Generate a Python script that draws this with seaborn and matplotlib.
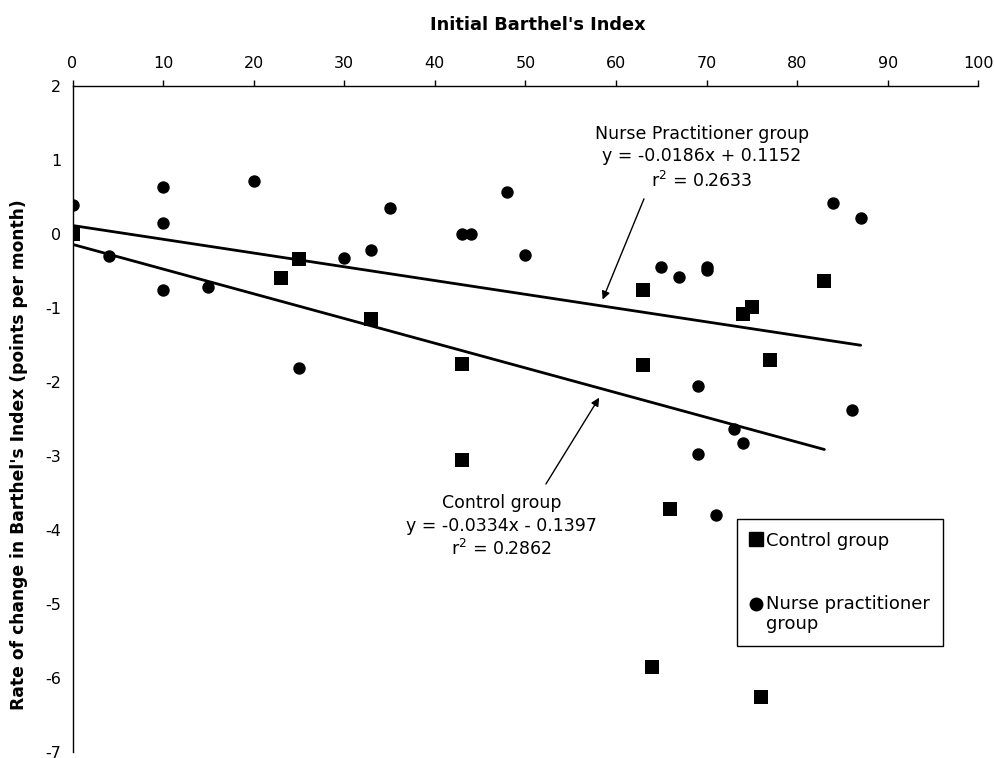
import numpy as np
import pandas as pd
import matplotlib
matplotlib.use("Agg")
import matplotlib.pyplot as plt
from matplotlib.lines import Line2D
from matplotlib.legend_handler import HandlerLine2D
import seaborn as sns

# control group (squares)
ctrl_x = [0, 23, 25, 33, 43, 43, 63, 63, 64, 66, 74, 75, 76, 77, 83]
ctrl_y = [0.0, -0.60, -0.34, -1.15, -1.75, -3.05, -0.76, -1.77, -5.85, -3.72, -1.08, -0.99, -6.26, -1.70, -0.635]

# nurse practitioner group (circles)
np_x = [0, 4, 10, 10, 10, 15, 20, 25, 30, 33, 35, 43, 44, 48, 50, 65, 67, 69, 69, 70, 70, 71, 73, 74, 84, 86, 87]
np_y = [0.39, -0.30, 0.64, 0.145, -0.75, -0.72, 0.72, -1.815, -0.32, -0.22, 0.35, 0.0, 0.0, 0.57, -0.29,
        -0.44, -0.58, -2.05, -2.97, -0.45, -0.48, -3.80, -2.64, -2.83, 0.42, -2.38, 0.21]

# regression lines (slope, intercept, x range)
ctrl_fit = (-0.0334, -0.1397, 0, 83)
np_fit = (-0.0186, 0.1152, 0, 87)

ctrl_df = pd.DataFrame({"x": ctrl_x, "y": ctrl_y})
np_df = pd.DataFrame({"x": np_x, "y": np_y})

sns.set_style("white")
plt.rcParams["font.family"] = ["DejaVu Sans"]
plt.rcParams["axes.unicode_minus"] = False
for k in ["text.color", "axes.labelcolor", "xtick.color", "ytick.color", "axes.edgecolor"]:
    plt.rcParams[k] = "black"


class UpHandler(HandlerLine2D):
    # put the marker next to the first line of a two-line label
    def create_artists(self, legend, orig_handle, xdescent, ydescent, width, height, fontsize, trans):
        arts = super().create_artists(legend, orig_handle, xdescent, ydescent, width, height, fontsize, trans)
        for a in arts:
            a.set_ydata(np.asarray(a.get_ydata()) + 0.6 * fontsize)
        return arts


fig = plt.figure(figsize=(9.95, 7.58), dpi=100)
ax = fig.add_axes([0.0729, 0.0079, 0.9104, 0.8786])

sns.scatterplot(data=ctrl_df, x="x", y="y", marker="s", s=90, color="black",
                edgecolor="black", linewidth=0, ax=ax, zorder=3)
sns.scatterplot(data=np_df, x="x", y="y", marker="o", s=80, color="black",
                edgecolor="black", linewidth=0, ax=ax, zorder=3)

for slope, icpt, x0, x1 in [np_fit, ctrl_fit]:
    xs = np.array([x0, x1])
    ax.plot(xs, slope * xs + icpt, color="black", lw=2.0, zorder=2)

ax.set_xlim(0, 100)
ax.set_ylim(-7, 2)
ax.set_xticks(range(0, 101, 10))
ax.set_yticks(range(-7, 3))

ax.spines["right"].set_visible(False)
ax.spines["bottom"].set_visible(False)
for s in ["top", "left"]:
    ax.spines[s].set_linewidth(1)

ax.xaxis.tick_top()
ax.xaxis.set_label_position("top")
ax.tick_params(axis="x", direction="out", length=4, width=1, pad=7, labelsize=11.5)
ax.tick_params(axis="y", direction="out", length=4, width=1, pad=4, labelsize=11.5)

ax.set_xlabel("Initial Barthel's Index", fontsize=12.8, fontweight="bold")
ax.xaxis.set_label_coords(0.5135, 1.084)
ax.set_ylabel("Rate of change in Barthel's Index (points per month)", fontsize=12.3, fontweight="bold")
ax.yaxis.set_label_coords(-0.049, 0.447)

# annotations
np_lines = ["Nurse Practitioner group", "y = -0.0186x + 0.1152", "r$^2$ = 0.2633"]
for txt, yy in zip(np_lines, [1.347, 1.054, 0.716]):
    ax.text(69.5, yy, txt, ha="center", va="center", fontsize=12.5)
ctrl_lines = ["Control group", "y = -0.0334x - 0.1397", "r$^2$ = 0.2862"]
for txt, yy in zip(ctrl_lines, [-3.63, -3.94, -4.26]):
    ax.text(47.4, yy, txt, ha="center", va="center", fontsize=12.5)

ax.annotate("", xy=(58.4, -0.92), xytext=(63.2, 0.51),
            arrowprops=dict(arrowstyle="-|>", color="black", lw=1, mutation_scale=12))
ax.annotate("", xy=(58.3, -2.18), xytext=(52.1, -3.41),
            arrowprops=dict(arrowstyle="-|>", color="black", lw=1, mutation_scale=12))

h_ctrl = Line2D([], [], marker="s", color="black", ls="", markersize=9.5)
h_np = Line2D([], [], marker="o", color="black", ls="", markersize=9)
leg = ax.legend([h_ctrl, h_np], ["Control group", "Nurse practitioner\ngroup"],
                handler_map={h_np: UpHandler()},
                loc="upper left", bbox_to_anchor=(0.734, 0.35), fontsize=13,
                frameon=True, fancybox=False, edgecolor="black", framealpha=1,
                handlelength=0.7, handletextpad=0.2, labelspacing=2.5,
                borderpad=0.7, borderaxespad=0)
leg.get_frame().set_linewidth(1)

fig.savefig("out.png", dpi=100)
